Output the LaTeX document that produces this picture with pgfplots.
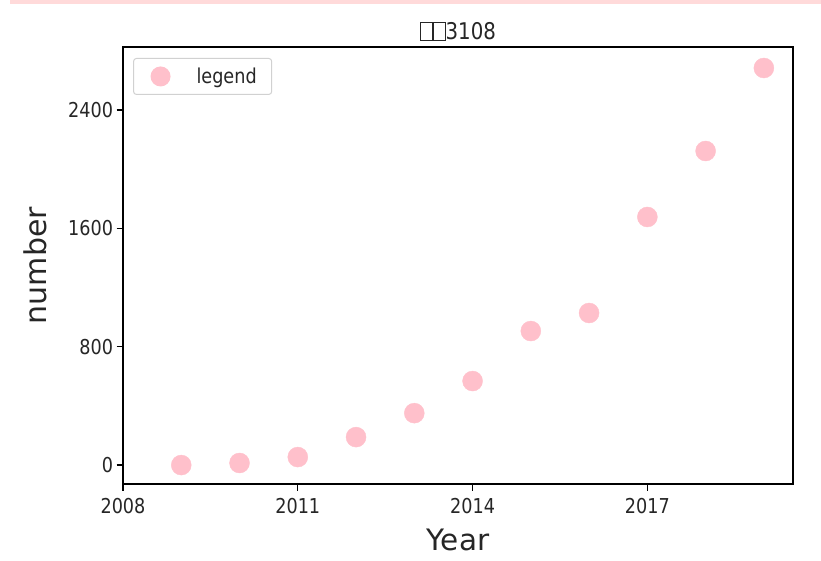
\documentclass[border=0pt]{standalone}
\usepackage{fontspec}
\setmainfont{DejaVu Sans}
\newfontfamily\narrowfont{DejaVu Sans}[FakeStretch=0.86]
\usepackage{pgfplots}
\pgfplotsset{compat=1.18}
\definecolor{mplpink}{RGB}{255,192,203}
\definecolor{strip}{RGB}{255,218,218}
\newcommand{\tofu}{{\setlength{\fboxsep}{0pt}\setlength{\fboxrule}{0.9pt}\fbox{\rule{0pt}{17pt}\hspace{11pt}}}}
\begin{document}
\begin{tikzpicture}[x=1pt,y=1pt]
\useasboundingbox (-123,-76) rectangle (698,484);
\fill[strip] (-113,480) rectangle (698,484);
\begin{axis}[
  at={(0,0)}, anchor=south west,
  scale only axis, width=670pt, height=437pt,
  xmin=2008, xmax=2019.5, ymin=-128, ymax=2826,
  xtick={2008,2011,2014,2017}, ytick={0,800,1600,2400},
  /pgf/number format/assume math mode=true,
  /pgf/number format/set thousands separator={},
  tick label style={font=\narrowfont\fontsize{20.5}{24}\selectfont, color=black!85},
  xticklabel style={yshift=-4pt},
  tick align=outside, tick pos=left,
  major tick length=6.5pt,
  every tick/.style={line width=1.4pt, black},
  axis line style={line width=1.4pt},
  title={\tofu\tofu3108},
  title style={font=\narrowfont\fontsize{23}{27}\selectfont, color=black!85, at={(axis description cs:0.5,1)}, anchor=south, yshift=-3pt},
  xlabel={Year}, ylabel={number},
  xlabel style={font=\fontsize{29.5}{34}\selectfont, color=black!85, at={(axis description cs:0.5,-0.128)}, anchor=center},
  ylabel style={font=\fontsize{30}{34}\selectfont, color=black!85, at={(axis description cs:-0.131,0.5)}, anchor=center},
  legend style={at={(axis description cs:0.015,0.975)}, anchor=north west, draw=black!18, rounded corners=3pt, font=\narrowfont\fontsize{20.5}{24}\selectfont, inner xsep=4pt, inner ysep=7.5pt, line width=1pt, text=black!85},
  legend cell align=left,
  legend image code/.code={\path[draw=none,fill=none] (0,-1pt) rectangle (57pt,1pt); \fill[mplpink,draw=none] (23pt,0) circle (10pt);},
]
\addplot[only marks, mark=*, mark size=10pt, color=mplpink, mark options={fill=mplpink, draw=mplpink}] coordinates {
(2009,0) (2010,14) (2011,54) (2012,189) (2013,351) (2014,568) (2015,906) (2016,1028) (2017,1677) (2018,2123) (2019,2684)
};
\addlegendentry{legend\rule{9pt}{0pt}}
\end{axis}
\end{tikzpicture}
\end{document}
